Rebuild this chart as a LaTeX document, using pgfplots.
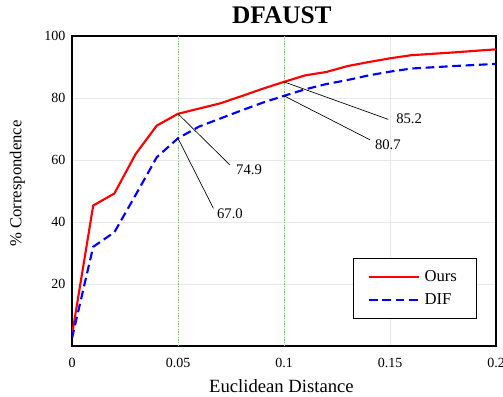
\documentclass[border=0pt]{standalone}
\usepackage{pgfplots}
\pgfplotsset{compat=1.18}
\usepackage{fontspec}
\setmainfont{Liberation Serif}
\definecolor{gl}{RGB}{90,225,70}
\begin{document}
\begin{tikzpicture}
\begin{axis}[
  name=ax,
  scale only axis,
  width=318pt, height=232.5pt,
  xmin=0, xmax=0.2, ymin=0, ymax=100,
  xtick={0,0.05,0.1,0.15,0.2},
  xticklabels={0,0.05,0.1,0.15,0.2},
  ytick={20,40,60,80,100},
  yticklabels={20,40,60,80,100},
  tick label style={font=\fontsize{10.5}{12}\selectfont},
  xticklabel style={yshift=-5.5pt},
  yticklabel style={xshift=-1.5pt},
  grid=major,
  major grid style={gray!18, line width=0.5pt},
  axis line style={line width=1.8pt},
  tick style={draw=none},
  title={\textbf{DFAUST}},
  title style={font=\fontsize{19}{21}\selectfont, at={(axis description cs:0.495,1)}, anchor=base, yshift=3pt},
  xlabel={Euclidean Distance},
  xlabel style={font=\fontsize{14}{16}\selectfont, at={(axis description cs:0.494,0)}, anchor=base, yshift=-35pt},
  ylabel={\% Correspondence},
  ylabel style={font=\fontsize{12.5}{14}\selectfont, at={(axis description cs:-0.129,0.524)}, anchor=center},
  legend style={at={(axis description cs:0.9545,0.089)}, anchor=south east, font=\fontsize{12.5}{14}\selectfont, draw=black, line width=0.6pt, inner xsep=11pt, inner ysep=6.5pt, row sep=4pt,
    nodes={inner xsep=3.5pt}},
  legend cell align=left,
  legend image code/.code={\draw[#1] (0pt,0pt) -- (37.5pt,0pt);},
]
\draw[gl, line width=0.6pt, dash pattern=on 1pt off 1pt] (axis cs:0.05,0) -- (axis cs:0.05,100);
\draw[gl, line width=0.6pt, dash pattern=on 1pt off 1pt] (axis cs:0.1,0) -- (axis cs:0.1,100);
\addplot[red, line width=1.6pt] coordinates {
(0,3.5) (0.01,45.3) (0.02,49.2) (0.03,61.9) (0.04,71.1) (0.05,74.9) (0.06,76.6) (0.07,78.3) (0.08,80.6) (0.09,83.0) (0.1,85.2) (0.11,87.3) (0.12,88.4) (0.13,90.3) (0.14,91.6) (0.15,92.8) (0.16,93.8) (0.18,94.7) (0.2,95.7)
};
\addlegendentry{Ours}
\addplot[blue, line width=1.6pt, dash pattern=on 6.5pt off 3.5pt] coordinates {
(0,2.5) (0.01,32.0) (0.02,36.7) (0.03,48.7) (0.04,60.9) (0.05,67.0) (0.06,70.8) (0.07,73.4) (0.08,76.0) (0.09,78.5) (0.1,80.7) (0.11,82.8) (0.12,84.5) (0.13,85.8) (0.14,87.3) (0.15,88.5) (0.16,89.5) (0.18,90.3) (0.2,91.0)
};
\addlegendentry{DIF}
\draw[black, line width=0.5pt] (axis cs:0.05,74.9) -- (axis cs:0.0745,58.4);
\node[font=\fontsize{11}{13}\selectfont] at (axis cs:0.0835,56.8) {74.9};
\draw[black, line width=0.5pt] (axis cs:0.05,67.0) -- (axis cs:0.0667,44.4);
\node[font=\fontsize{11}{13}\selectfont] at (axis cs:0.0745,42.8) {67.0};
\draw[black, line width=0.5pt] (axis cs:0.1,85.2) -- (axis cs:0.1492,73.1);
\node[font=\fontsize{11}{13}\selectfont] at (axis cs:0.159,73.3) {85.2};
\draw[black, line width=0.5pt] (axis cs:0.1,80.7) -- (axis cs:0.1406,66.5);
\node[font=\fontsize{11}{13}\selectfont] at (axis cs:0.149,65.0) {80.7};
\end{axis}
\pgfresetboundingbox
\path ([xshift=-54pt,yshift=-37.5pt]ax.south west) rectangle ([xshift=5.25pt,yshift=27pt]ax.north east);
\end{tikzpicture}
\end{document}
